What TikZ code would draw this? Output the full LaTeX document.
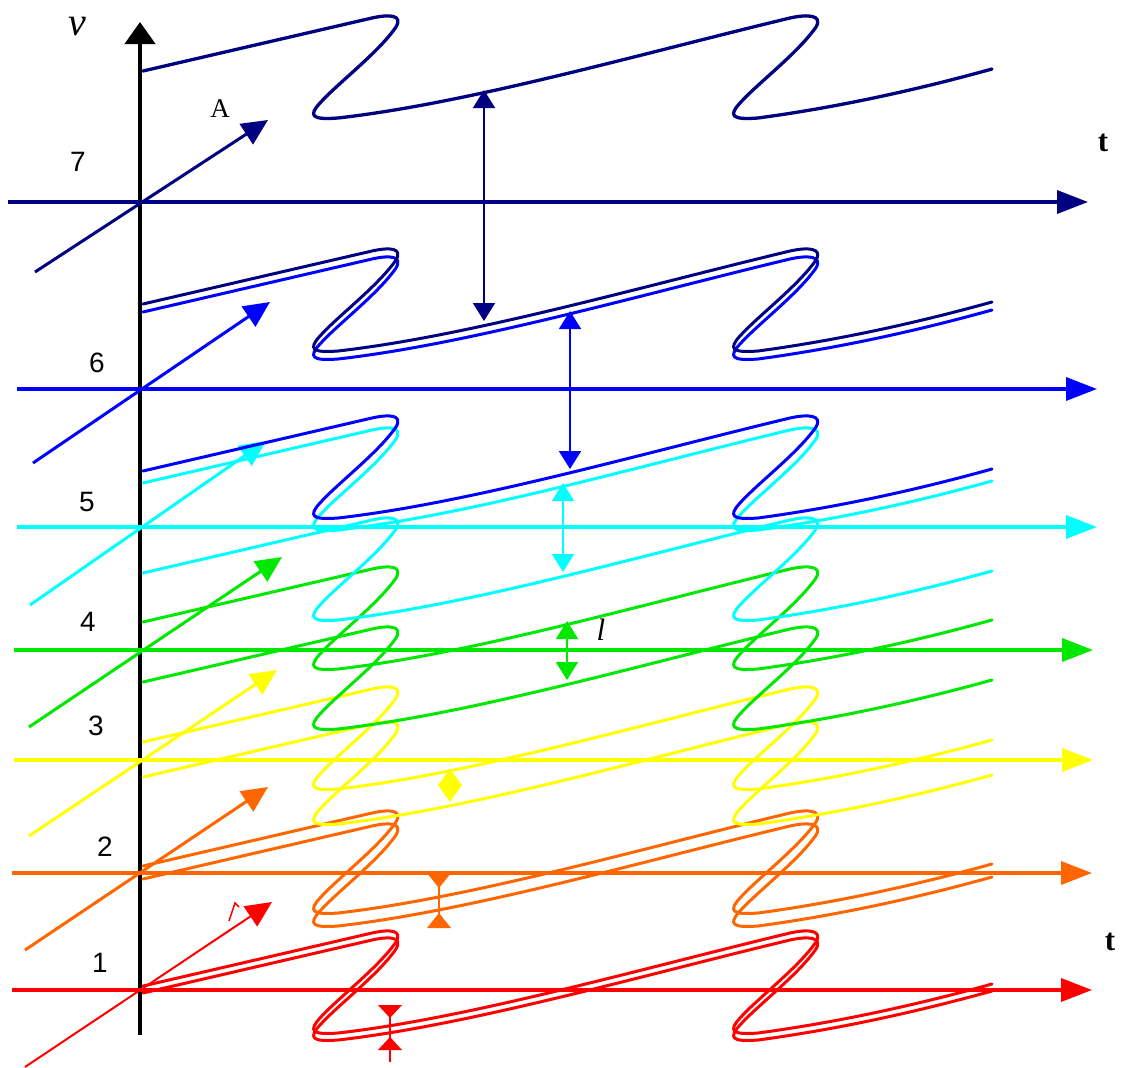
\documentclass[tikz,border=0pt]{standalone}
\usepackage{fontspec}
\setmainfont{Liberation Serif}
\newfontfamily\sansdig{Liberation Sans}
\usetikzlibrary{arrows.meta}
\definecolor{cnavy}{RGB}{0,0,128}
\definecolor{cblue}{RGB}{0,0,255}
\definecolor{ccyan}{RGB}{0,255,255}
\definecolor{cgreen}{RGB}{0,232,0}
\definecolor{cyellow}{RGB}{255,255,0}
\definecolor{corange}{RGB}{255,102,0}
\definecolor{cred}{RGB}{255,0,0}
% one wave, #1 = style, #2 = start height at the vertical axis
\newcommand{\wavecurve}[2]{%
  \draw[wave,#1,shift={(140,#2)}] (3,0) -- (232,-53)
    .. controls (250,-57) and (263,-56) .. (256,-44)
    .. controls (238,-18) and (198,12) .. (180,32)
    .. controls (168,45) and (172,49) .. (198,47)
    .. controls (330,32) and (500,-17) .. (650,-53)
    .. controls (668,-57) and (683,-56) .. (676,-44)
    .. controls (658,-18) and (618,12) .. (600,32)
    .. controls (588,45) and (592,49) .. (618,47)
    .. controls (700,36) and (780,18) .. (852,-2);}
\begin{document}
\begin{tikzpicture}[x=1pt,y=-1pt,
  taxis/.style={line width=3.5pt,-{Triangle[length=31pt,width=23pt]}},
  diag/.style={line width=3pt,-{Triangle[length=26pt,width=24pt]}},
  wave/.style={line width=3pt,line join=round,line cap=round},
  gap/.style={line width=1.8pt,{Triangle[length=18pt,width=22pt]}-{Triangle[length=18pt,width=22pt]}},
  numlbl/.style={font=\sansdig\fontsize{28}{30}\selectfont,inner sep=0pt},
  serlbl/.style={inner sep=0pt}]
\useasboundingbox (0,0) rectangle (1122,1068);

% vertical axis
\coordinate (vbot) at (140,1035);
\coordinate (vtop) at (140,22);
\draw[line width=4.5pt,-{Triangle[length=22pt,width=30pt]}] (vbot) -- (vtop);

% horizontal time axes
\foreach \yy/\cc/\xl/\xr in {202/cnavy/8/1088, 389/cblue/17/1097, 527/ccyan/17/1097,
  650/cgreen/14/1093, 760/cyellow/14/1093, 873/corange/12/1092, 990/cred/12/1092}
  \draw[taxis,\cc] (\xl,\yy) -- (\xr,\yy);

% diagonal arrows
\draw[diag,cnavy] (35,272) -- (268,120);
\draw[diag,cblue] (33,463) -- (270,302);
\draw[diag,ccyan] (30,605) -- (266,441);
\draw[diag,cgreen] (29,727) -- (282,557);
\draw[diag,cyellow] (29,836) -- (277,670);
\draw[diag,corange] (25,950) -- (268,787);
\draw[diag,cred,line width=2pt] (25,1067) -- (272,902);
\draw[cred,line width=1.5pt] (229,921) -- (235,903) -- (239,907);

% waves
\wavecurve{corange}{866}
\wavecurve{corange}{879}
\wavecurve{cred}{986}
\wavecurve{cred}{993}
\wavecurve{cyellow}{742}
\wavecurve{cyellow}{777}
\wavecurve{cgreen}{622}
\wavecurve{cgreen}{682}
\wavecurve{ccyan}{483}
\wavecurve{ccyan}{573}
\wavecurve{cblue}{471}
\wavecurve{cblue}{312}
\wavecurve{cnavy}{304}
\wavecurve{cnavy,line width=3.3pt}{71}

% gap markers
\draw[gap,cnavy] (484,90) -- (484,321);
\draw[gap,cblue] (570,311) -- (570,469);
\draw[gap,ccyan] (563,483) -- (563,572);
\draw[gap,cgreen] (567,621) -- (567,680);
\fill[cyellow] (450,769) -- (462,785) -- (450,802) -- (438,785) -- cycle;
\draw[corange,line width=1.8pt] (439,873) -- (439,928);
\fill[corange] (427,873) -- (451,873) -- (439,888) -- cycle;
\fill[corange] (427,928) -- (451,928) -- (439,913) -- cycle;
\draw[cred,line width=1.8pt] (390,1005) -- (390,1062);
\fill[cred] (378,1005) -- (402,1005) -- (390,1018) -- cycle;
\fill[cred] (378,1050) -- (402,1050) -- (390,1037) -- cycle;

% labels
\node[serlbl,font=\itshape\fontsize{40}{42}\selectfont] (nu) at (77,27) {ν};
\node[serlbl,font=\fontsize{27}{29}\selectfont] (lblA) at (220,109) {A};
\node[serlbl,font=\bfseries\fontsize{31}{33}\selectfont] (t1) at (1103,143) {t};
\node[serlbl,font=\bfseries\fontsize{31}{33}\selectfont] (t2) at (1110,942) {t};
\node[serlbl,font=\itshape\fontsize{31}{33}\selectfont] (lbll) at (601,630) {l};
\node[numlbl] (n7) at (78,162) {7};
\node[numlbl] (n6) at (97,363) {6};
\node[numlbl] (n5) at (87,502) {5};
\node[numlbl] (n4) at (88,622) {4};
\node[numlbl] (n3) at (96,726) {3};
\node[numlbl] (n2) at (105,847) {2};
\node[numlbl] (n1) at (100,963) {1};
\end{tikzpicture}
\end{document}
